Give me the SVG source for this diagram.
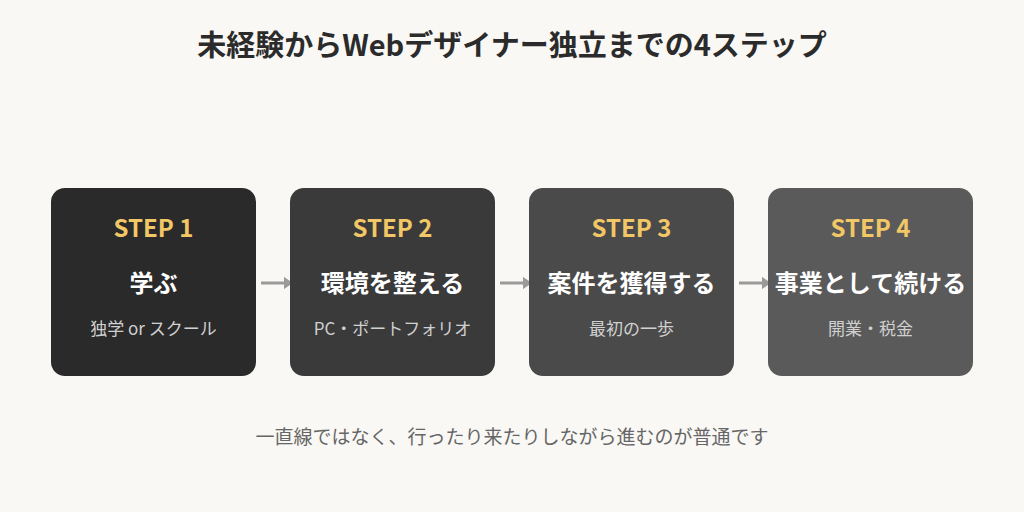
<svg xmlns="http://www.w3.org/2000/svg" width="1024" height="512" viewBox="0 0 1024 512">
<defs>
<style>
.t{font-family:"Noto Sans CJK JP","Noto Sans",sans-serif;text-anchor:middle}
.title{font-size:29px;font-weight:700;fill:#2b2b2b}
.step{font-size:24px;font-weight:700;fill:#f2c766}
.name{font-size:24px;font-weight:700;fill:#ffffff}
.sub{font-size:17px;fill:#d0d0d0}
.note{font-size:19px;fill:#666666}
.conn{stroke:#9a9a9a;stroke-width:3;fill:none}
</style>
<marker id="ah" viewBox="0 0 10 14" refX="8" refY="7" markerWidth="3" markerHeight="4.2" orient="auto" markerUnits="strokeWidth">
<path d="M0,0 L10,7 L0,14 z" fill="#9a9a9a"/>
</marker>
</defs>
<rect width="1024" height="512" fill="#f9f8f5"/>
<text class="t title" x="512" y="56">未経験からWebデザイナー独立までの4ステップ</text>
<g id="connectors">
<line class="conn" x1="261" y1="283" x2="291" y2="283" marker-end="url(#ah)"/>
<line class="conn" x1="500" y1="283" x2="530" y2="283" marker-end="url(#ah)"/>
<line class="conn" x1="739" y1="283" x2="769" y2="283" marker-end="url(#ah)"/>
</g>
<g id="step1">
<rect x="51" y="188" width="205" height="188" rx="14" fill="#2a2a2a"/>
<text class="t step" x="153.5" y="237">STEP 1</text>
<text class="t name" x="153.5" y="292">学ぶ</text>
<text class="t sub" x="153.5" y="335">独学 or スクール</text>
</g>
<g id="step2">
<rect x="290" y="188" width="205" height="188" rx="14" fill="#3a3a3a"/>
<text class="t step" x="392.5" y="237">STEP 2</text>
<text class="t name" x="392.5" y="292">環境を整える</text>
<text class="t sub" x="392.5" y="335">PC・ポートフォリオ</text>
</g>
<g id="step3">
<rect x="529" y="188" width="205" height="188" rx="14" fill="#4a4a4a"/>
<text class="t step" x="631.5" y="237">STEP 3</text>
<text class="t name" x="631.5" y="292">案件を獲得する</text>
<text class="t sub" x="631.5" y="335">最初の一歩</text>
</g>
<g id="step4">
<rect x="768" y="188" width="205" height="188" rx="14" fill="#5a5a5a"/>
<text class="t step" x="870.5" y="237">STEP 4</text>
<text class="t name" x="870.5" y="292">事業として続ける</text>
<text class="t sub" x="870.5" y="335">開業・税金</text>
</g>
<text class="t note" x="512" y="444">一直線ではなく、行ったり来たりしながら進むのが普通です</text>
</svg>
